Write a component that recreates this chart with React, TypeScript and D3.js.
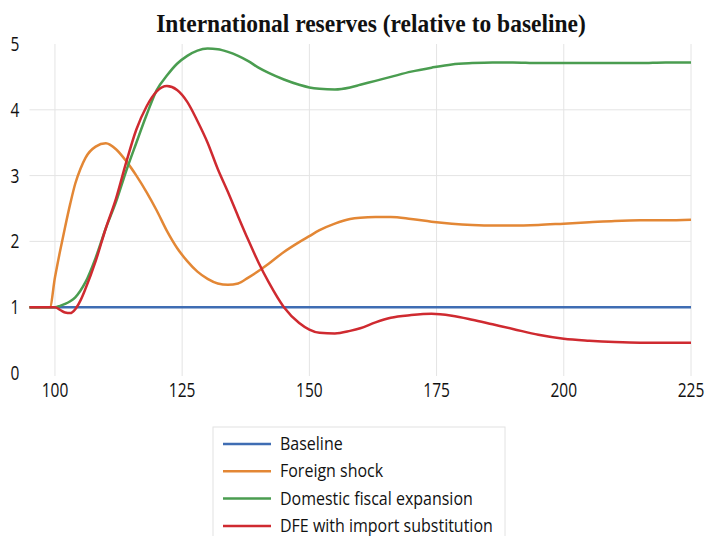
import React from "react";
import * as d3 from "d3";

const periods = [95, 98, 99, 100, 101, 102, 103, 104, 105, 106, 108, 110, 112, 114, 116, 118, 120, 122, 124, 126, 128, 130, 132, 134, 136, 138, 140, 142, 145, 148, 150, 152, 155, 158, 160, 163, 166, 170, 174, 178, 182, 186, 190, 195, 200, 205, 210, 215, 220, 225];

const baseline = periods.map(() => 1);
const foreignShock = [1, 1, 1, 1.45, 1.85, 2.22, 2.57, 2.88, 3.1, 3.27, 3.44, 3.49, 3.4, 3.22, 3.0, 2.75, 2.47, 2.16, 1.9, 1.7, 1.54, 1.43, 1.36, 1.34, 1.36, 1.45, 1.55, 1.66, 1.84, 1.99, 2.08, 2.17, 2.27, 2.34, 2.36, 2.37, 2.37, 2.34, 2.3, 2.27, 2.25, 2.24, 2.24, 2.25, 2.27, 2.29, 2.31, 2.32, 2.32, 2.33];
const domesticFiscal = [1, 1, 1, 1, 1.02, 1.05, 1.09, 1.15, 1.25, 1.38, 1.75, 2.2, 2.6, 3.07, 3.5, 3.92, 4.3, 4.52, 4.7, 4.82, 4.9, 4.93, 4.92, 4.88, 4.82, 4.74, 4.64, 4.56, 4.46, 4.38, 4.34, 4.32, 4.31, 4.34, 4.38, 4.44, 4.5, 4.58, 4.64, 4.69, 4.71, 4.72, 4.72, 4.71, 4.71, 4.71, 4.71, 4.71, 4.72, 4.72];
const dfeImportSub = [1, 1, 1, 1, 0.96, 0.92, 0.91, 0.97, 1.1, 1.28, 1.7, 2.2, 2.65, 3.2, 3.7, 4.05, 4.28, 4.36, 4.3, 4.12, 3.83, 3.5, 3.1, 2.75, 2.38, 2.02, 1.68, 1.38, 1.0, 0.76, 0.66, 0.61, 0.6, 0.64, 0.68, 0.77, 0.84, 0.88, 0.9, 0.87, 0.81, 0.74, 0.67, 0.58, 0.52, 0.49, 0.47, 0.46, 0.46, 0.46];

const seriesNames = ["Baseline", "Foreign shock", "Domestic fiscal expansion", "DFE with import substitution"];
const seriesValues = [baseline, foreignShock, domesticFiscal, dfeImportSub];
const seriesColors = ["#3F6DB3", "#E38735", "#4A9D50", "#CF2A30"];
const xTicks = [100, 125, 150, 175, 200, 225];
const yTicks = [0, 1, 2, 3, 4, 5];
const title = "International reserves (relative to baseline)";

const STRETCH = 1.3;

export default function App() {
  const W = 705;
  const H = 536;
  const x = d3.scaleLinear().domain([95, 225]).range([29.5, 691]);
  const y = d3.scaleLinear().domain([0, 5]).range([373, 44]);
  const line = d3
    .line<number>()
    .x((_, i) => x(periods[i]))
    .y((d) => y(d))
    .curve(d3.curveMonotoneX);

  const sans = "'Open Sans', 'Liberation Sans', sans-serif";

  const stretchedText = (
    key: string,
    cx: number,
    cy: number,
    txt: string,
    opts: { size: number; anchor?: string; family?: string; weight?: string; sy?: number }
  ) => (
    <text
      key={key}
      transform={`translate(${cx},${cy}) scale(1,${opts.sy ?? STRETCH})`}
      dy="0.35em"
      textAnchor={opts.anchor ?? "middle"}
      fontFamily={opts.family ?? sans}
      fontSize={opts.size}
      fontWeight={opts.weight ?? "normal"}
      fill="#111"
    >
      {txt}
    </text>
  );

  return (
    <svg
      width={W}
      height={H}
      style={{ position: "absolute", left: 0, top: 0, background: "#fff" }}
    >
      <rect x={0} y={0} width={W} height={H} fill="#fff" />
      {stretchedText("title", 371, 23, title, {
        size: 23.5,
        family: "'Liberation Serif', 'Times New Roman', serif",
        weight: "bold",
        sy: 1.1,
      })}
      {/* grid */}
      {xTicks.map((t) => (
        <line key={"gx" + t} x1={x(t)} x2={x(t)} y1={44} y2={376} stroke="#e4e4e4" strokeWidth={1} />
      ))}
      {yTicks
        .filter((t) => t > 0 && t < 5)
        .map((t) => (
          <line key={"gy" + t} x1={29.5} x2={691} y1={y(t)} y2={y(t)} stroke="#e4e4e4" strokeWidth={1} />
        ))}
      {/* tick labels */}
      {yTicks.map((t) =>
        stretchedText("yl" + t, 15, y(t), String(t), { size: 15.5 })
      )}
      {xTicks.map((t) =>
        stretchedText("xl" + t, x(t), 390, String(t), { size: 15.5 })
      )}
      {/* series */}
      {seriesValues.map((vals, i) => (
        <path
          key={"s" + i}
          d={line(vals) ?? ""}
          fill="none"
          stroke={seriesColors[i]}
          strokeWidth={2.5}
          strokeLinejoin="round"
          strokeLinecap="butt"
        />
      ))}
      {/* legend */}
      <rect x={213} y={427} width={292} height={130} fill="#fff" stroke="#e2e2e2" strokeWidth={1} />
      {seriesNames.map((name, i) => {
        const ly = 444 + i * 27.3;
        return (
          <g key={"lg" + i}>
            <line x1={223} x2={271} y1={ly} y2={ly} stroke={seriesColors[i]} strokeWidth={2.5} />
            {stretchedText("lt" + i, 280, ly, name, { size: 16, anchor: "start", sy: 1.08 })}
          </g>
        );
      })}
    </svg>
  );
}
